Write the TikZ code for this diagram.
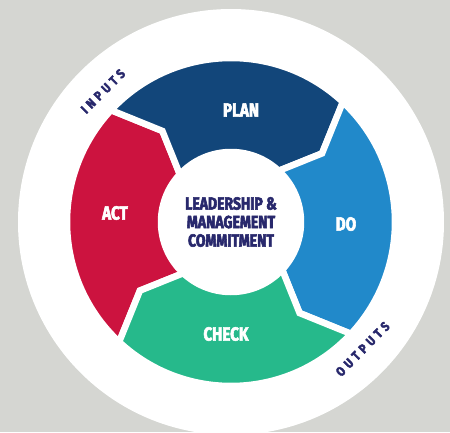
\documentclass[tikz,border=0pt]{standalone}
\usepackage{fontspec}
\setmainfont{Fira Sans}
\newfontfamily\cyclefont[FakeStretch=0.8, FakeBold=3]{Fira Sans}
\newfontfamily\ringfont[FakeStretch=0.85, FakeBold=3, LetterSpace=30]{Fira Sans}
\usepackage{tikz}
\definecolor{planblue}{HTML}{12467A}
\definecolor{doblue}{HTML}{2189CA}
\definecolor{checkgreen}{HTML}{26B98B}
\definecolor{actred}{HTML}{CC133F}
\definecolor{inkblue}{HTML}{28286C}
\definecolor{backgrey}{HTML}{D5D6D2}
\tikzset{
	ringseg/.style={draw=white, line width=6.5pt},
	seglabel/.style={text=white, font=\cyclefont\bfseries\fontsize{19}{19}\selectfont},
	corelabel/.style={text=inkblue, align=center, font=\cyclefont\bfseries\fontsize{17.5}{18.5}\selectfont},
	ringword/.style={text=inkblue, font=\ringfont\bfseries\fontsize{13}{13}\selectfont, inner sep=0pt}
}
% one arrow shaped piece of the ring: start angle, end angle, colour
\newcommand{\cycleseg}[3]{%
	\pgfmathsetmacro{\tipa}{#1-10}\pgfmathsetmacro{\tipb}{#2-10}%
	\path[ringseg, fill=#3] (#1:164) arc[start angle=#1, end angle=#2, radius=164]
		-- (\tipb:114) -- (#2:70) arc[start angle=#2, end angle=#1, radius=70]
		-- (\tipa:114) -- cycle;}

\begin{document}
\begin{tikzpicture}[x=1pt, y=1pt]
	\useasboundingbox (-231,-210) rectangle (219,222);
	\fill[backgrey] (-231,-210) rectangle (219,222);
	\fill[white] (0,0) circle[radius=213];
	% the four steps
	\cycleseg{227}{137}{actred}
	\cycleseg{137}{47}{planblue}
	\cycleseg{47}{-43}{doblue}
	\cycleseg{-43}{-133}{checkgreen}
	\node[seglabel] (plan) at (10,112) {PLAN};
	\node[seglabel] (do) at (115,-2) {DO};
	\node[seglabel] (check) at (-5,-112) {CHECK};
	\node[seglabel] (act) at (-116,9) {ACT};
	\node[corelabel] (core) at (0,0) {LEADERSHIP \&\\MANAGEMENT\\COMMITMENT};
	% texts round the ring
	\node[ringword, rotate=45] (inputs) at (134.4:183) {INPUTS};
	\node[ringword, rotate=45.4] (outputs) at (-44:183) {OUTPUTS};
\end{tikzpicture}
\end{document}
